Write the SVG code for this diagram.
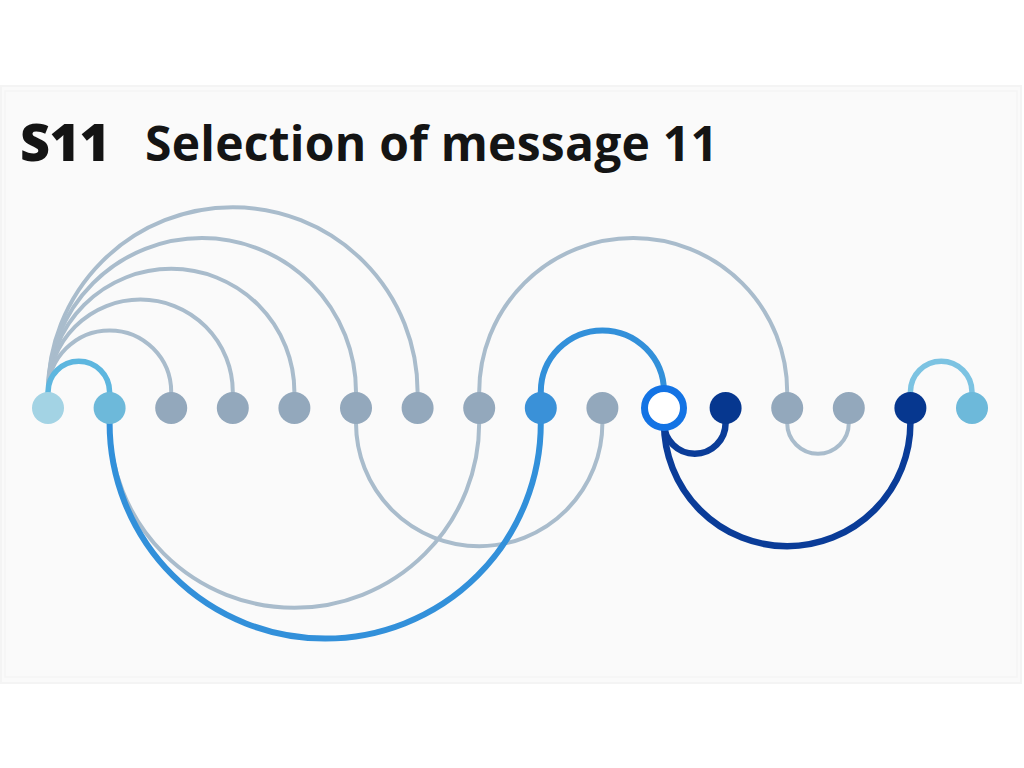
<svg xmlns="http://www.w3.org/2000/svg" width="1024" height="768" viewBox="0 0 1024 768">
  <style>
    .title { font-family: "Open Sans", "Noto Sans", "DejaVu Sans", sans-serif; fill: #141414; }
    .link { fill: none; stroke-linecap: round; }
    .gray { stroke: #a9bccc; stroke-width: 4; }
    .sky { stroke: #5db6df; stroke-width: 5.5; }
    .sky2 { stroke: #7cc3e2; stroke-width: 5.5; }
    .blue { stroke: #3290da; stroke-width: 6; }
    .navy { stroke: #0a3c98; stroke-width: 6.5; }
    .n-gray { fill: #93a8bc; }
    .n-pale { fill: #a3d3e4; }
    .n-sky { fill: #6db9da; }
    .n-blue { fill: #3a91d8; }
    .n-navy { fill: #06378f; }
    .n-sel { fill: #ffffff; stroke: #1373e4; stroke-width: 7; }
  </style>

  <rect x="0" y="0" width="1024" height="768" fill="#ffffff"/>
  <!-- panel -->
  <rect x="1" y="86" width="1020" height="597" fill="#fafafa" stroke="#f4f4f4" stroke-width="2"/>
  <rect x="5" y="91" width="1012" height="586" fill="none" stroke="#f5f5f5" stroke-width="1.5"/>

  <!-- heading -->
  <text class="title" x="20" y="161" font-size="52" font-weight="800" textLength="90">S11</text>
  <text class="title" x="145" y="161" font-size="48" font-weight="700" textLength="573">Selection of message 11</text>

  <!-- connectors: arcs above the row center at y=392, below at y=423 -->
  <g id="connectors">
    <!-- grey links -->
    <path class="link gray" d="M48 408 V392 A61.6 61.6 0 0 1 171.2 392 V408"/>
    <path class="link gray" d="M48 408 V392 A92.4 92.4 0 0 1 232.8 392 V408"/>
    <path class="link gray" d="M48 408 V392 A123.2 123.2 0 0 1 294.4 392 V408"/>
    <path class="link gray" d="M48 408 V392 A154 154 0 0 1 356 392 V408"/>
    <path class="link gray" d="M48 408 V392 A184.8 184.8 0 0 1 417.6 392 V408"/>
    <path class="link gray" d="M479.2 408 V392 A154 154 0 0 1 787.2 392 V408"/>
    <path class="link gray" d="M787.2 408 V423 A30.8 30.8 0 0 0 848.8 423 V408"/>
    <path class="link gray" d="M356 408 V423 A123.2 123.2 0 0 0 602.4 423 V408"/>
    <path class="link gray" d="M109.6 408 V423 A184.8 184.8 0 0 0 479.2 423 V408"/>
    <!-- highlighted links -->
    <path class="link sky" d="M48 408 V392 A30.8 30.8 0 0 1 109.6 392 V408"/>
    <path class="link sky2" d="M910.4 408 V392 A30.8 30.8 0 0 1 972 392 V408"/>
    <path class="link blue" d="M540.8 408 V392 A61.6 61.6 0 0 1 664 392 V408"/>
    <path class="link blue" d="M109.6 408 V423 A215.6 215.6 0 0 0 540.8 423 V408"/>
    <path class="link navy" d="M664 408 V423 A30.8 30.8 0 0 0 725.6 423 V408"/>
    <path class="link navy" d="M664 408 V423 A123.2 123.2 0 0 0 910.4 423 V408"/>
  </g>

  <!-- nodes -->
  <g id="node-0"><circle class="n-pale" cx="48" cy="408" r="16"/></g>
  <g id="node-1"><circle class="n-sky" cx="109.6" cy="408" r="16"/></g>
  <g id="node-2"><circle class="n-gray" cx="171.2" cy="408" r="16"/></g>
  <g id="node-3"><circle class="n-gray" cx="232.8" cy="408" r="16"/></g>
  <g id="node-4"><circle class="n-gray" cx="294.4" cy="408" r="16"/></g>
  <g id="node-5"><circle class="n-gray" cx="356" cy="408" r="16"/></g>
  <g id="node-6"><circle class="n-gray" cx="417.6" cy="408" r="16"/></g>
  <g id="node-7"><circle class="n-gray" cx="479.2" cy="408" r="16"/></g>
  <g id="node-8"><circle class="n-blue" cx="540.8" cy="408" r="16"/></g>
  <g id="node-9"><circle class="n-gray" cx="602.4" cy="408" r="16"/></g>
  <g id="node-10"><circle class="n-sel" cx="664" cy="408" r="19.5"/></g>
  <g id="node-11"><circle class="n-navy" cx="725.6" cy="408" r="16"/></g>
  <g id="node-12"><circle class="n-gray" cx="787.2" cy="408" r="16"/></g>
  <g id="node-13"><circle class="n-gray" cx="848.8" cy="408" r="16"/></g>
  <g id="node-14"><circle class="n-navy" cx="910.4" cy="408" r="16"/></g>
  <g id="node-15"><circle class="n-sky" cx="972" cy="408" r="16"/></g>
</svg>
